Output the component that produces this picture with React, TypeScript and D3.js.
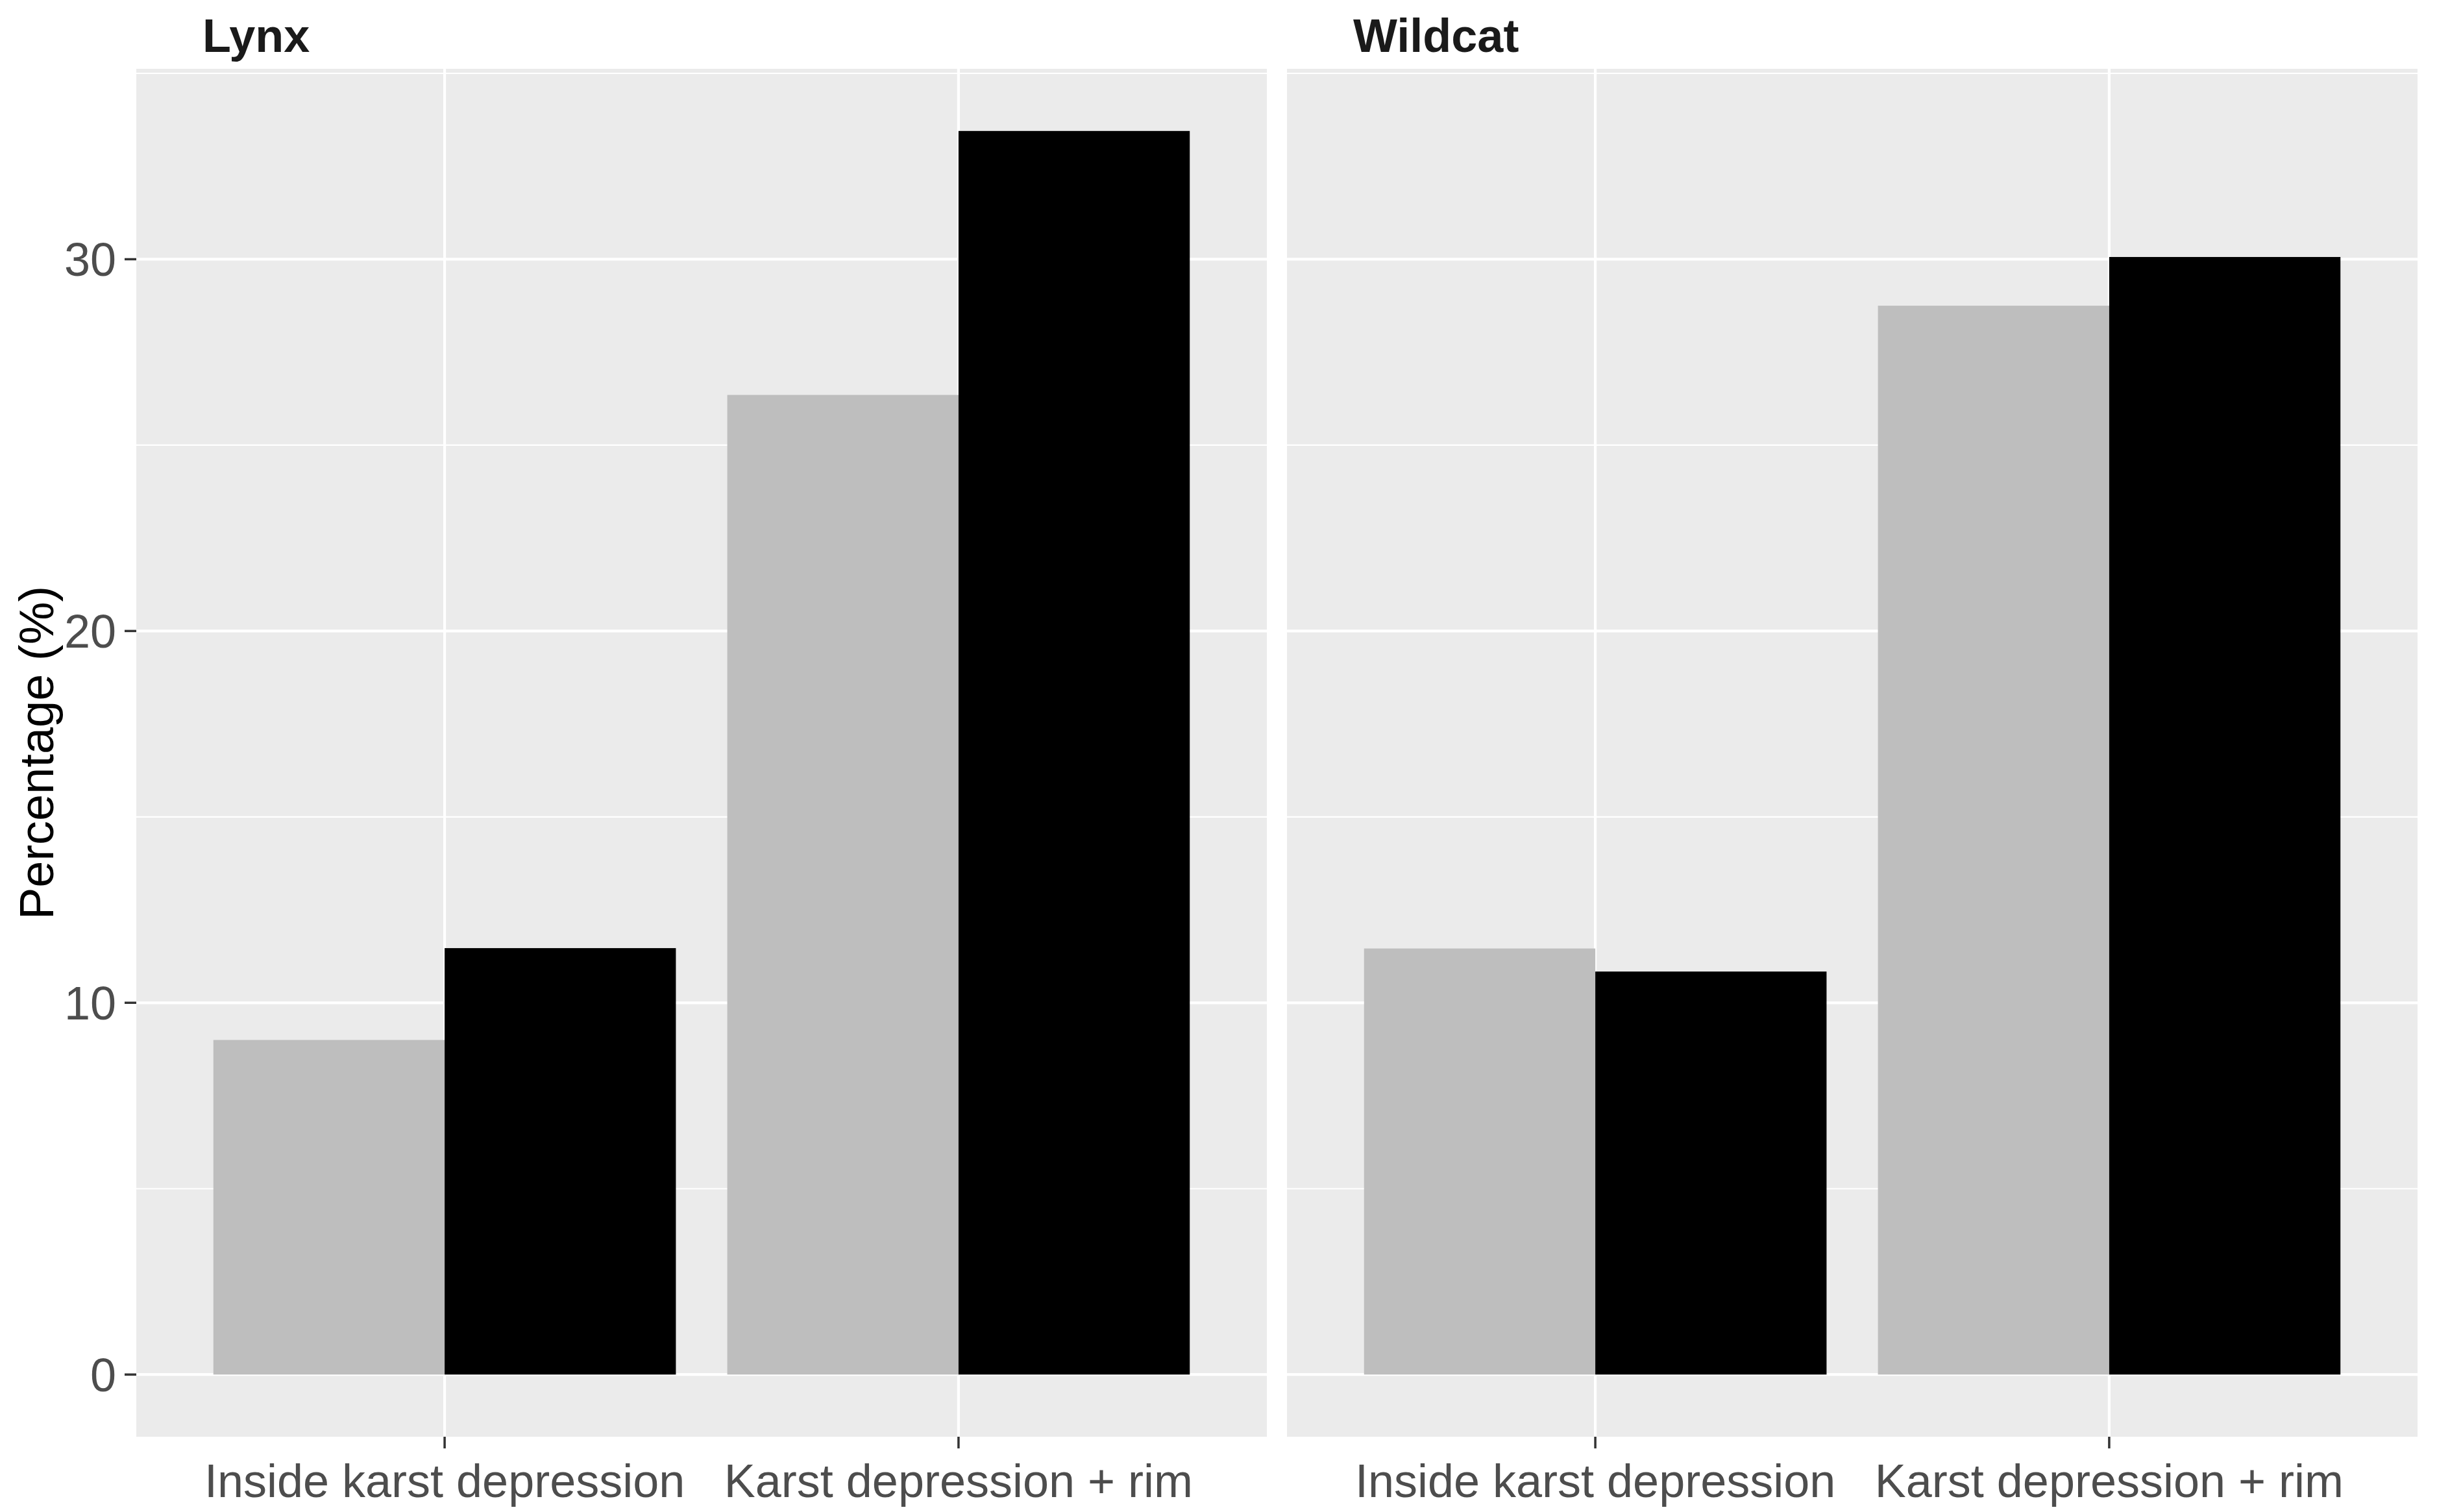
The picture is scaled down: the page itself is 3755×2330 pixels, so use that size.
import React from "react";
import * as d3 from "d3";

const species = ["Lynx", "Wildcat"];
const categories = ["Inside karst depression", "Karst depression + rim"];
const seriesColors = ["#BEBEBE", "#000000"];
const lynxValues = [
  [9.0, 26.35],
  [11.47, 33.45],
];
const wildcatValues = [
  [11.46, 28.75],
  [10.84, 30.06],
];
const panelValues = [lynxValues, wildcatValues];
const majorTicks = [0, 10, 20, 30];
const minorTicks = [5, 15, 25, 35];

const W = 3755;
const H = 2330;
const panelTop = 106;
const panelBottom = 2214;
const panelWidth = 1742;
const panelLefts = [210, 1983];
const FONT = "'Liberation Sans', Arial, sans-serif";

export default function App() {
  const allVals = panelValues.flat(2);
  const maxV = d3.max(allVals) as number;
  const pad = maxV * 0.05;
  const y = d3.scaleLinear().domain([-pad, maxV + pad]).range([panelBottom, panelTop]);

  return (
    <svg width={W} height={H} style={{ position: "absolute", left: 0, top: 0 }}>
      <rect x={0} y={0} width={W} height={H} fill="#ffffff" />
      {species.map((sp, pi) => {
        const left = panelLefts[pi];
        const x = d3.scaleLinear().domain([0.4, categories.length + 0.6]).range([left, left + panelWidth]);
        const vals = panelValues[pi];
        return (
          <g key={sp}>
            <rect x={left} y={panelTop} width={panelWidth} height={panelBottom - panelTop} fill="#EBEBEB" />
            {minorTicks.filter((t) => y(t) > panelTop).map((t) => (
              <line key={"mn" + t} x1={left} x2={left + panelWidth} y1={y(t)} y2={y(t)} stroke="#ffffff" strokeWidth={2.2} />
            ))}
            {majorTicks.map((t) => (
              <line key={"mj" + t} x1={left} x2={left + panelWidth} y1={y(t)} y2={y(t)} stroke="#ffffff" strokeWidth={4.2} />
            ))}
            {categories.map((c, ci) => (
              <line key={"vx" + ci} x1={x(ci + 1)} x2={x(ci + 1)} y1={panelTop} y2={panelBottom} stroke="#ffffff" strokeWidth={4.2} />
            ))}
            {categories.map((c, ci) =>
              vals.map((series, si) => {
                const x0 = x(ci + 1 - 0.45 + si * 0.45);
                const x1 = x(ci + 1 - 0.45 + (si + 1) * 0.45);
                const v = series[ci];
                return (
                  <rect key={`b${ci}-${si}`} x={x0} y={y(v)} width={x1 - x0} height={y(0) - y(v)} fill={seriesColors[si]} />
                );
              })
            )}
            {/* x axis ticks and labels */}
            {categories.map((c, ci) => (
              <g key={"xt" + ci}>
                <line x1={x(ci + 1)} x2={x(ci + 1)} y1={panelBottom} y2={panelBottom + 18} stroke="#333333" strokeWidth={3.5} />
                <text x={x(ci + 1)} y={2307} textAnchor="middle" fontFamily={FONT} fontSize={72} fill="#4D4D4D">
                  {c}
                </text>
              </g>
            ))}
            {/* strip title */}
            <text x={left + 102} y={80} fontFamily={FONT} fontSize={72} fontWeight="bold" fill="#1A1A1A">
              {sp}
            </text>
          </g>
        );
      })}
      {/* y axis */}
      {majorTicks.map((t) => (
        <g key={"yt" + t}>
          <line x1={192} x2={210} y1={y(t)} y2={y(t)} stroke="#333333" strokeWidth={3.5} />
          <text x={179} y={y(t)} dy="0.36em" textAnchor="end" fontFamily={FONT} fontSize={72} fill="#4D4D4D">
            {t}
          </text>
        </g>
      ))}
      <text
        transform={`translate(82, ${(panelTop + panelBottom) / 2}) rotate(-90)`}
        textAnchor="middle"
        fontFamily={FONT}
        fontSize={74}
        fill="#000000"
      >
        Percentage (%)
      </text>
    </svg>
  );
}
